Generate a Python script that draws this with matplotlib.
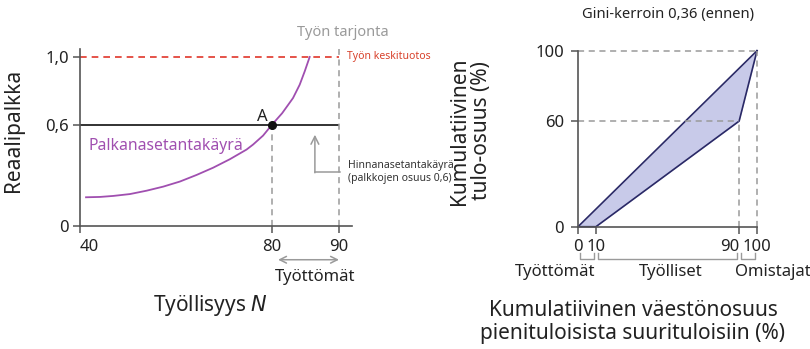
import numpy as np
import matplotlib
matplotlib.use("Agg")
import matplotlib.pyplot as plt

plt.rcParams["font.family"] = ["Noto Sans", "DejaVu Sans"]

# Palkanasetantakäyrä (työllisyys, reaalipalkka)
wage_n = [41.25, 44.16, 46.93, 50.40, 53.87, 57.33, 60.80, 64.27, 67.73,
          71.20, 74.67, 76.05, 78.13, 80.0, 81.5, 82.39, 83.13, 84.13,
          84.88, 85.62]
wage_w = [0.170, 0.172, 0.178, 0.189, 0.209, 0.233, 0.263, 0.302, 0.345,
          0.395, 0.452, 0.482, 0.535, 0.60, 0.667, 0.716, 0.757, 0.836,
          0.915, 1.0]
point_a = (80, 0.6)
price_level = 0.6
avg_product = 1.0
employment = 80
labour_force = 90
left_xticks = [40, 80, 90]
left_yticks = [0, 0.6, 1.0]
left_yticklabels = ["0", "0,6", "1,0"]

# Lorenzin käyrä
pop_share = [0, 10, 90, 100]
income_share = [0, 0, 60, 100]
right_ticks_x = [0, 10, 90, 100]
right_ticks_y = [0, 60, 100]
groups = ["Työttömät", "Työlliset", "Omistajat"]
group_bounds = [(0, 10), (10, 90), (90, 100)]
group_label_x = [-13, 52, 109]
gini = "0,36"

SPINE = "#555555"
GRAY = "#9a9a9a"
PURPLE = "#a04fb0"
RED = "#e0362a"
EDGE = "#2a2966"
FILL = "#c8cae9"
TEXT = "#222222"

# epälineaarinen x-akseli: 40-80 tiiviimpi kuin 80-90
XP = [0, 40, 80, 90, 200]
PP = [-192.3, 0, 192.3, 259.3, 996.3]


def fwd(x):
    return np.interp(x, XP, PP)


def inv(p):
    return np.interp(p, PP, XP)


fig = plt.figure(figsize=(8.1, 3.49), dpi=100)
ax1 = fig.add_axes([0.0988, 0.3524, 0.3358, 0.5086])
ax2 = fig.add_axes([0.7136, 0.3504, 0.2210, 0.5043])

for ax in (ax1, ax2):
    for s in ("top", "right"):
        ax.spines[s].set_visible(False)
    for s in ("left", "bottom"):
        ax.spines[s].set_color(SPINE)
        ax.spines[s].set_linewidth(1.2)
    ax.tick_params(colors=SPINE, labelcolor=TEXT, labelsize=12,
                   length=5, width=1.1)
    ax.tick_params(axis="x", pad=4)
    ax.tick_params(axis="y", pad=3)

# --- vasen kuvio ---
ax1.set_xscale("function", functions=(fwd, inv))
ax1.set_xlim(40, 91.95)
ax1.set_ylim(0, 1.05)
ax1.set_xticks(left_xticks)
ax1.set_xticklabels([str(t) for t in left_xticks])
ax1.get_xticklabels()[0].set_ha("left")
ax1.set_yticks(left_yticks)
ax1.set_yticklabels(left_yticklabels)

dash = (0, (4, 3))
ax1.hlines(avg_product, 40, labour_force, color=RED, lw=1.2, linestyles=dash)
ax1.hlines(price_level, 40, labour_force, color=TEXT, lw=1.3)
ax1.vlines(employment, 0, price_level, color=GRAY, lw=1.1, linestyles=dash)
ax1.vlines(labour_force, 0, 1.05, color=GRAY, lw=1.1, linestyles=dash,
           clip_on=False)
ax1.plot(wage_n, wage_w, color=PURPLE, lw=1.3, solid_joinstyle="round")
ax1.plot(*point_a, "o", color="#111111", ms=5.5, zorder=5)
ax1.text(78.0, 0.645, "A", fontsize=12, ha="center", va="center", color=TEXT)
ax1.text(41.7, 0.473, "Palkanasetantakäyrä", color=PURPLE, fontsize=11.3,
         va="center")

ax1.text(90.6, 1.142, "Työn tarjonta", color=GRAY, fontsize=10.5,
         ha="center", va="center")
ax1.text(91.2, 1.0, "Työn keskituotos", color="#d8412b", fontsize=7.5,
         va="center")
ax1.text(91.3, 0.32, "Hinnanasetantakäyrä\n(palkkojen osuus 0,6)",
         color="#333333", fontsize=7.5, va="center", linespacing=1.3)
ax1.plot([86.4, 90.1], [0.32, 0.32], color=GRAY, lw=1.1, clip_on=False)
ax1.annotate("", xy=(86.4, 0.54), xytext=(86.4, 0.315),
             arrowprops=dict(arrowstyle="->", color=GRAY, lw=1.1,
                             shrinkA=0, shrinkB=0, mutation_scale=14))

xt = ax1.get_xaxis_transform()
ax1.annotate("", xy=(80.9, -0.19), xytext=(labour_force, -0.19),
             xycoords=xt, textcoords=xt,
             arrowprops=dict(arrowstyle="<->", color=GRAY, lw=1.1,
                             shrinkA=0, shrinkB=0, mutation_scale=12),
             annotation_clip=False)
ax1.text(86.5, -0.287, "Työttömät", transform=xt, fontsize=12,
         ha="center", va="center", color=TEXT)

ax1.text(-0.243, 0.54, "Reaalipalkka", transform=ax1.transAxes, fontsize=15,
         rotation=90, ha="center", va="center", color=TEXT)
ax1.text(0.478, -0.445, "Työllisyys $\\mathit{N}$", transform=ax1.transAxes,
         fontsize=15, ha="center", va="center", color=TEXT)

# --- oikea kuvio ---
ax2.set_xlim(0, 100)
ax2.set_ylim(0, 100)
ax2.set_xticks(right_ticks_x)
ax2.set_yticks(right_ticks_y)
ax2.get_xticklabels()[2].set_ha("right")
ax2.tick_params(axis="y", pad=5)

ax2.fill_between(pop_share, pop_share, income_share, color=FILL, lw=0)
ax2.plot([0, 100], [0, 100], color=EDGE, lw=1.2, clip_on=False)
ax2.plot(pop_share, income_share, color=EDGE, lw=1.2, clip_on=False)
ax2.hlines([100, 60], 0, [100, 90], color=GRAY, lw=1.1, linestyles=dash,
           clip_on=False)
ax2.vlines([90, 100], 0, [60, 100], color=GRAY, lw=1.1, linestyles=dash,
           clip_on=False)

bt = ax2.get_xaxis_transform()
for name, (a, b), lx in zip(groups, group_bounds, group_label_x):
    ax2.plot([a + 1, a + 1, b - 1, b - 1], [-0.149, -0.184, -0.184, -0.149],
             color=GRAY, lw=1.0, transform=bt, clip_on=False)
    ax2.text(lx, -0.257, name, transform=bt, fontsize=12, ha="center",
             va="center", color=TEXT)

ax2.text(0.5, 1.203, "Gini-kerroin " + gini + " (ennen)", transform=ax2.transAxes,
         fontsize=10.6, ha="center", va="center", color=TEXT)
ax2.text(-0.60, 0.544, "Kumulatiivinen\ntulo-osuus (%)", transform=ax2.transAxes,
         fontsize=15, rotation=90, ha="center", va="center",
         linespacing=1.1, color=TEXT)
ax2.text(0.307, -0.54,
         "Kumulatiivinen väestönosuus\npienituloisista suurituloisiin (%)",
         transform=ax2.transAxes, fontsize=15, ha="center", va="center",
         linespacing=1.15, color=TEXT)

fig.savefig("out.png", dpi=100)
